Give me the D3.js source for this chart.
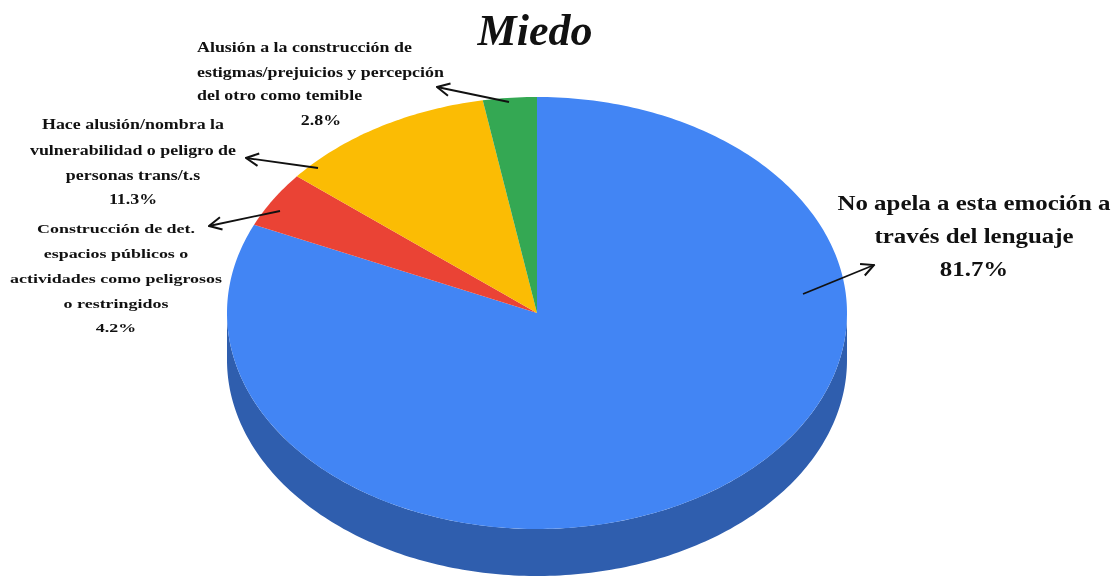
<!DOCTYPE html>
<html><head><meta charset="utf-8">
<script src="https://cdn.jsdelivr.net/npm/d3@7/dist/d3.min.js"></script>
<style>html,body{margin:0;background:#fff}svg{display:block;filter:blur(0.7px)}text{font-family:"Liberation Serif",serif;font-weight:bold;fill:#111}</style>
</head><body><svg id="c" width="1117" height="576"></svg>
<script>
const categories=["No apela a esta emoción a través del lenguaje","Construcción de det. espacios públicos o actividades como peligrosos o restringidos","Hace alusión/nombra la vulnerabilidad o peligro de personas trans/t.s","Alusión a la construcción de estigmas/prejuicios y percepción del otro como temible"];
const values=[81.7,4.2,11.3,2.8];
const colors=["#4285f4","#ea4335","#fbbc04","#34a853"];
const sideColors=["#2f5eae","#a52f25","#b18503","#25763a"];
const labelLines=[
 ["No apela a esta emoción a","través del lenguaje","81.7%"],
 ["Construcción de det.","espacios públicos o","actividades como peligrosos","o restringidos","4.2%"],
 ["Hace alusión/nombra la","vulnerabilidad o peligro de","personas trans/t.s","11.3%"],
 ["Alusión a la construcción de","estigmas/prejuicios y percepción","del otro como temible","2.8%"]
];
// layout only
const labelLayout=[
 {x:974,y:[210,243,276],size:20,hs:1.245,from:[803,294],to:[874,265]},
 {x:116,y:[233,258,283,308,332],size:13.5,hs:1.33,from:[280,211],to:[209,226]},
 {x:133,y:[129,155,180,204],size:14,hs:1.28,from:[318,168],to:[246,158]},
 {x:197,left:[true,true,true,false],cxLast:321,y:[52,77,100,125],size:14,hs:1.28,from:[509,102],to:[437,87]}
];
const svg=d3.select("#c");
const cx=537,cy=313,rx=310,ry=216,depth=47;
const sx=d3.scaleLinear().domain([-1,1]).range([cx-rx,cx+rx]);
const sy=d3.scaleLinear().domain([-1,1]).range([cy-ry,cy+ry]);
const pie=d3.pie().sort(null).value(d=>d).startAngle(0).endAngle(2*Math.PI)(values);
function pt(a){return [sx(Math.sin(a)),sy(-Math.cos(a))];}
function arcPath(s,e,dy=0){const n=Math.max(2,Math.ceil((e-s)*60));return d3.range(n+1).map(i=>{const [x,y]=pt(s+(e-s)*i/n);return [x,y+dy];});}
pie.forEach((d,i)=>{
 const s=Math.max(d.startAngle,Math.PI/2),e=Math.min(d.endAngle,3*Math.PI/2);
 if(e<=s)return;
 svg.append("path").attr("d",d3.line()(arcPath(s,e).concat(arcPath(s,e,depth).reverse()))+"Z").attr("fill",sideColors[i]);
});
pie.forEach((d,i)=>{
 svg.append("path").attr("d",d3.line()([[cx,cy]].concat(arcPath(d.startAngle,d.endAngle)))+"Z").attr("fill",colors[i]);
});
svg.append("text").attr("x",535).attr("y",45).attr("text-anchor","middle").attr("font-size",44).style("font-style","italic").text("Miedo");
svg.append("defs").append("marker").attr("id","a").attr("viewBox","0 0 12 12").attr("refX",11).attr("refY",6).attr("markerWidth",15).attr("markerHeight",15).attr("markerUnits","userSpaceOnUse").attr("orient","auto")
 .append("path").attr("d","M1,1L11,6L1,11").attr("fill","none").attr("stroke","#111").attr("stroke-width",1.6);
labelLines.forEach((lines,k)=>{
 const l=labelLayout[k];
 lines.forEach((t,i)=>{
  const isLeft=l.left&&l.left[i];
  const x=l.left&&!isLeft?l.cxLast:l.x;
  svg.append("text").attr("transform",`translate(${x},${l.y[i]}) scale(${l.hs},1)`).attr("text-anchor",isLeft?"start":"middle").attr("font-size",l.size).text(t);
 });
 svg.append("line").attr("x1",l.from[0]).attr("y1",l.from[1]).attr("x2",l.to[0]).attr("y2",l.to[1]).attr("stroke","#111").attr("stroke-width",1.8).attr("marker-end","url(#a)");
});
</script></body></html>
